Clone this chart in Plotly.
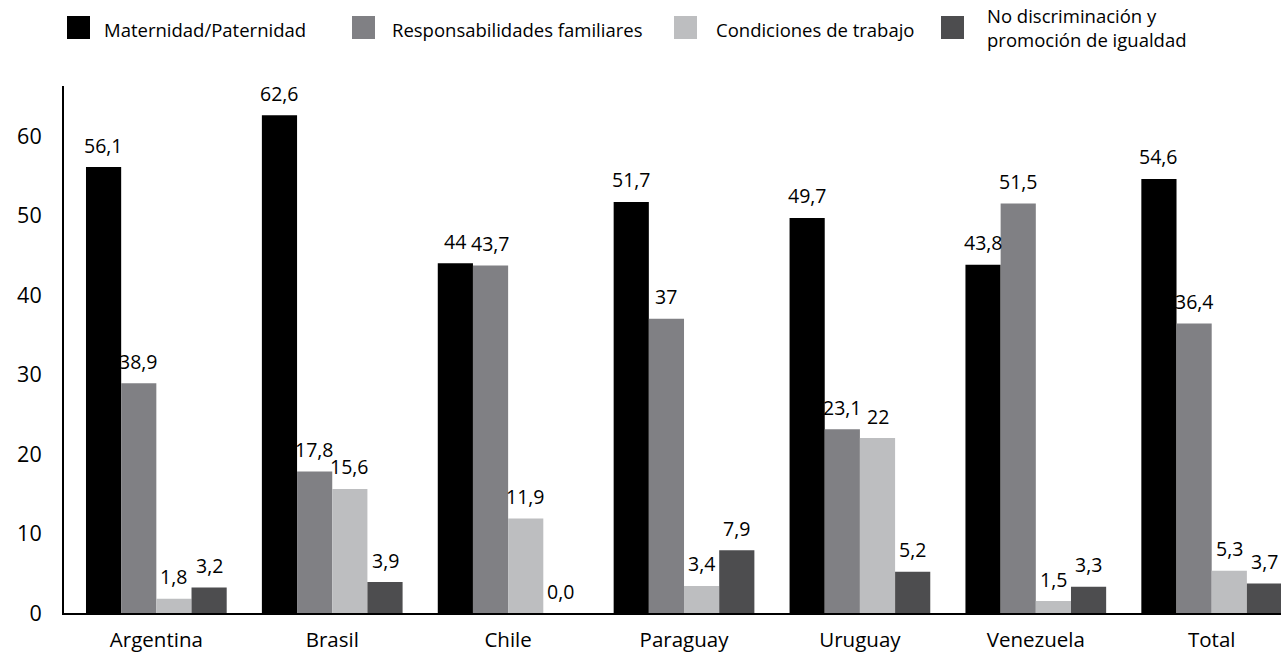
import plotly.graph_objects as go

categories = ["Argentina", "Brasil", "Chile", "Paraguay", "Uruguay", "Venezuela", "Total"]
series_names = ["Maternidad/Paternidad", "Responsabilidades familiares",
                "Condiciones de trabajo", "No discriminación y<br>promoción de igualdad"]
maternidad = [56.1, 62.6, 44.0, 51.7, 49.7, 43.8, 54.6]
responsabilidades = [28.9, 17.8, 43.7, 37.0, 23.1, 51.5, 36.4]
condiciones = [1.8, 15.6, 11.9, 3.4, 22.0, 1.5, 5.3]
no_discriminacion = [3.2, 3.9, 0.0, 7.9, 5.2, 3.3, 3.7]
labels_maternidad = ["56,1", "62,6", "44", "51,7", "49,7", "43,8", "54,6"]
labels_responsabilidades = ["38,9", "17,8", "43,7", "37", "23,1", "51,5", "36,4"]
labels_condiciones = ["1,8", "15,6", "11,9", "3,4", "22", "1,5", "5,3"]
labels_no_discriminacion = ["3,2", "3,9", "0,0", "7,9", "5,2", "3,3", "3,7"]
y_ticks = [0, 10, 20, 30, 40, 50, 60]

colors = ["#000000", "#808084", "#bdbec0", "#4d4d4f"]
values = [maternidad, responsabilidades, condiciones, no_discriminacion]
labels = [labels_maternidad, labels_responsabilidades, labels_condiciones, labels_no_discriminacion]

FONT = "Open Sans"
W, H = 1281, 654
ML, MR, MT, MB = 64, 0, 86, 41
PW, PH = W - ML - MR, H - MT - MB

xs = list(range(len(categories)))
fig = go.Figure()
for k in range(4):
    fig.add_trace(go.Bar(x=xs, y=values[k], name=series_names[k],
                         marker=dict(color=colors[k], line=dict(width=0)),
                         showlegend=False))

annotations = []
n = len(values)
bw = 0.8 / n
for k in range(n):
    for i in xs:
        annotations.append(dict(
            x=i - 0.4 + bw * (k + 0.5), y=values[k][i], xref="x", yref="y",
            text=labels[k][i], showarrow=False, yshift=22, yanchor="middle",
            xanchor="center", font=dict(family=FONT, size=19.5, color="#000")))

# custom legend (swatches + text)
def px_x(p):
    return (p - ML) / PW

def px_y(p):
    return (H - MB - p) / PH

shapes = []
sw_left = [67, 352, 674, 941]
txt_left = [102, 390, 714, 985]
for k in range(4):
    shapes.append(dict(type="rect", xref="paper", yref="paper",
                       x0=px_x(sw_left[k]), x1=px_x(sw_left[k] + 23),
                       y0=px_y(39), y1=px_y(16),
                       fillcolor=colors[k], line=dict(width=0)))
    annotations.append(dict(x=px_x(txt_left[k]), y=px_y(29 if k < 3 else 27.5),
                            xref="paper", yref="paper", text=series_names[k],
                            showarrow=False, xanchor="left", yanchor="middle",
                            align="left",
                            font=dict(family=FONT, size=18.5, color="#000")))

fig.update_layout(
    width=W, height=H,
    margin=dict(l=ML, r=MR, t=MT, b=MB, pad=0, autoexpand=False),
    paper_bgcolor="white", plot_bgcolor="white",
    barmode="group", bargap=0.2, bargroupgap=0,
    showlegend=False,
    xaxis=dict(range=[-0.525, 6.394], tickvals=xs, ticktext=categories,
               showline=True, linecolor="#000", linewidth=2,
               showgrid=False, zeroline=False, ticks="", automargin=False,
               tickfont=dict(family=FONT, size=20.5, color="#000"),
               ticklabelstandoff=7),
    yaxis=dict(range=[0, PH / 7.95], tickvals=y_ticks,
               ticktext=[str(v) for v in y_ticks],
               showline=True, linecolor="#000", linewidth=2,
               showgrid=False, zeroline=False, ticks="", automargin=False,
               tickfont=dict(family=FONT, size=21.5, color="#000"),
               ticklabelstandoff=16),
    shapes=shapes,
    annotations=annotations,
)

fig.write_html("out.html")
